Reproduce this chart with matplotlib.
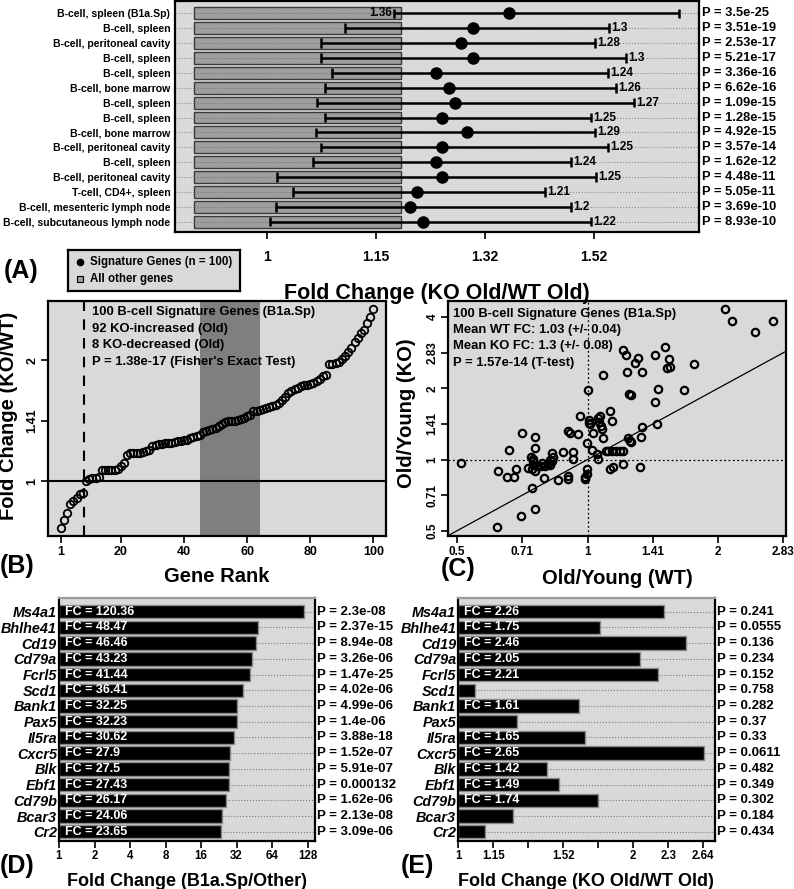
import numpy as np
import matplotlib.pyplot as plt

plt.rcParams['font.family'] = ['Liberation Sans', 'DejaVu Sans']
plt.rcParams['font.weight'] = 'bold'
plt.rcParams['axes.linewidth'] = 1.6

W, H = 794, 889
BG = '#d9d9d9'

# ---------------- panel A: signature enrichment across tissues
tissues = ["B-cell, spleen (B1a.Sp)", "B-cell, spleen", "B-cell, peritoneal cavity",
           "B-cell, spleen", "B-cell, spleen", "B-cell, bone marrow", "B-cell, spleen",
           "B-cell, spleen", "B-cell, bone marrow", "B-cell, peritoneal cavity",
           "B-cell, spleen", "B-cell, peritoneal cavity", "T-cell, CD4+, spleen",
           "B-cell, mesenteric lymph node", "B-cell, subcutaneous lymph node"]
a_mean = [1.36, 1.30, 1.28, 1.30, 1.24, 1.26, 1.27, 1.25, 1.29, 1.25, 1.24, 1.25, 1.21, 1.20, 1.22]
a_low = [1.176, 1.105, 1.071, 1.071, 1.087, 1.076, 1.066, 1.077, 1.064, 1.071, 1.061, 1.013, 1.034, 1.012, 1.004]
a_high = [1.690, 1.545, 1.518, 1.579, 1.543, 1.559, 1.595, 1.510, 1.518, 1.543, 1.472, 1.520, 1.424, 1.472, 1.510]
a_pval = ["3.5e-25", "3.51e-19", "2.53e-17", "5.21e-17", "3.36e-16", "6.62e-16", "1.09e-15",
          "1.28e-15", "4.92e-15", "3.57e-14", "1.62e-12", "4.48e-11", "5.05e-11", "3.69e-10", "8.93e-10"]
other_fc = 1.186
bar_base = 0.911

# ---------------- panel B: ranked log2 fold change (KO/WT, old)
b_log2fc = [-0.381, -0.318, -0.258, -0.185, -0.165, -0.14, -0.10, -0.093,
            0.003, 0.022, 0.03, 0.03, 0.036,
            0.09, 0.09, 0.09, 0.092, 0.095, 0.099, 0.13, 0.15,
            0.22, 0.232, 0.235, 0.235, 0.238, 0.24, 0.25, 0.26, 0.29,
            0.30, 0.305, 0.31, 0.315, 0.318, 0.32, 0.325, 0.33, 0.335, 0.34,
            0.345, 0.355, 0.365, 0.375, 0.385, 0.405, 0.415, 0.425, 0.432,
            0.44, 0.455, 0.47, 0.49, 0.496, 0.496, 0.50, 0.507, 0.512, 0.523,
            0.537, 0.55, 0.578, 0.584, 0.592, 0.597, 0.605, 0.611, 0.619, 0.633,
            0.647, 0.674, 0.70, 0.729, 0.742, 0.764, 0.77, 0.784, 0.792, 0.797,
            0.803, 0.811, 0.825, 0.847, 0.866, 0.874, 0.967, 0.97, 0.975, 0.989,
            1.011, 1.038, 1.066, 1.104, 1.153, 1.186, 1.222, 1.249, 1.304, 1.359, 1.419]
band_lo, band_hi = 45, 64
cut_rank = 8.5

# ---------------- panel C: log2 old/young, WT vs KO
c_wt = [-0.971, -0.685, -0.616, -0.565, -0.552, -0.603, -0.506, -0.697, -0.511, -0.404,
        -0.429, -0.404, -0.404, -0.434, -0.420, -0.416, -0.455, -0.404, -0.420, -0.425,
        -0.384, -0.353, -0.327, -0.289, -0.276, -0.263, -0.271, -0.290, -0.300, -0.332,
        -0.225, -0.148, -0.148, -0.186, -0.110, -0.110, -0.148, -0.135, -0.072, -0.059,
        -0.008, -0.008, -0.008, -0.020, -0.020, 0.000, 0.115, 0.010, 0.010, 0.020,
        0.043, 0.031, 0.082, 0.094, 0.087, 0.102, 0.107, 0.075, 0.082, 0.158,
        0.171, 0.171, 0.120, 0.184, 0.140, 0.273, 0.294, 0.299, 0.363, 0.389,
        0.419, 0.317, 0.330, 0.516, 0.592, 0.626, 0.610, 0.630, 0.542, 0.516,
        0.738, 0.817, 1.052, 1.108, 1.280, 1.420, 0.529, 0.419, 0.410, 0.335,
        0.310, 0.325, 0.270, 0.245, 0.220, 0.185, 0.197, 0.268, 0.401, -0.350]
c_ko = [-0.042, -0.168, -0.252, -0.252, -0.135, 0.131, 0.378, -0.951, -0.797, -0.695,
        -0.406, 0.317, 0.168, 0.037, 0.010, -0.019, -0.121, -0.159, -0.080, -0.140,
        -0.093, -0.093, -0.093, -0.075, -0.019, 0.042, 0.088, 0.000, -0.060, -0.266,
        -0.289, -0.228, -0.275, 0.112, 0.112, 0.005, 0.400, 0.378, 0.354, 0.611,
        0.238, -0.135, -0.205, -0.250, -0.275, 0.974, 1.193, 0.560, 0.514, 0.494,
        0.378, 0.131, 0.590, 0.611, 0.520, 0.470, 0.424, 0.075, 0.005, 0.121,
        0.680, -0.135, 0.308, 0.540, 0.121, 1.543, 1.464, 1.231, 1.357, 1.427,
        1.231, 0.920, 0.900, 1.464, 1.576, 1.417, 1.280, 1.300, 0.993, 0.811,
        0.970, 1.347, 2.112, 1.939, 1.790, 1.939, 0.494, 0.457, 0.310, 0.250,
        0.300, 0.265, 0.121, 0.121, 0.121, 0.121, -0.110, -0.065, -0.103, -0.050]

# ---------------- panels D / E: top signature genes
genes = ["Ms4a1", "Bhlhe41", "Cd19", "Cd79a", "Fcrl5", "Scd1", "Bank1", "Pax5",
         "Il5ra", "Cxcr5", "Blk", "Ebf1", "Cd79b", "Bcar3", "Cr2"]
d_fc = [120.36, 48.47, 46.46, 43.23, 41.44, 36.41, 32.25, 32.23, 30.62, 27.9, 27.5, 27.43, 26.17, 24.06, 23.65]
d_pval = ["2.3e-08", "2.37e-15", "8.94e-08", "3.26e-06", "1.47e-25", "4.02e-06", "4.99e-06",
          "1.4e-06", "3.88e-18", "1.52e-07", "5.91e-07", "0.000132", "1.62e-06", "2.13e-08", "3.09e-06"]
e_fc = [2.26, 1.75, 2.46, 2.05, 2.21, 1.07, 1.61, 1.26, 1.65, 2.65, 1.42, 1.49, 1.74, 1.24, 1.11]
e_pval = ["0.241", "0.0555", "0.136", "0.234", "0.152", "0.758", "0.282", "0.37", "0.33",
          "0.0611", "0.482", "0.349", "0.302", "0.184", "0.434"]

fig = plt.figure(figsize=(W / 100, H / 100), dpi=100)


def add_ax(x0, y0, x1, y1):
    return fig.add_axes([x0 / W, 1 - y1 / H, (x1 - x0) / W, (y1 - y0) / H])


def ftext(x, y, s, **kw):
    fig.text(x / W, 1 - y / H, s, **kw)


def style(ax, size=9):
    ax.set_facecolor(BG)
    ax.tick_params(direction='out', length=5, width=1.2, labelsize=size, pad=2)


# ================= A
ax = add_ax(174.5, 1, 699, 232)
style(ax, 10)
n = len(tissues)
rows = np.arange(n)
ax.set_xscale('log', base=2)
ax.set_xlim(0.889, 1.733)
ax.set_ylim(n - 1 + 0.69, -0.83)
for i in rows:
    ax.axhline(i, color='#8a8a8a', ls=':', lw=0.8, zorder=1)
ax.barh(rows, other_fc - bar_base, left=bar_base, height=0.8, color='#9e9e9e',
        edgecolor='#3a3a3a', lw=1, zorder=2)
for i in rows:
    ax.plot([bar_base, other_fc], [i, i], color='#777777', ls=':', lw=0.8, zorder=3)
ax.hlines(rows, a_low, a_high, color='k', lw=1.8, zorder=4)
ax.vlines(a_low, rows - 0.32, rows + 0.32, color='k', lw=1.8, zorder=4)
ax.vlines(a_high, rows - 0.32, rows + 0.32, color='k', lw=1.8, zorder=4)
ax.plot(a_mean, rows, 'o', color='k', ms=8, zorder=5)
for i in rows:
    lab = f"{a_mean[i]:g}"
    if i == 0:
        ax.annotate(lab, (a_low[i], i), xytext=(-2, 0), textcoords='offset points',
                    ha='right', va='center', fontsize=8.5, zorder=6)
    else:
        ax.annotate(lab, (a_high[i], i), xytext=(1.5, 0), textcoords='offset points',
                    ha='left', va='center', fontsize=8.5, zorder=6)
    ax.text(1.006, i, f"P = {a_pval[i]}", transform=ax.get_yaxis_transform(),
            ha='left', va='center', fontsize=9.3)
ax.set_yticks(rows)
ax.set_yticklabels(tissues, fontsize=7.6)
ax.tick_params(axis='y', length=0, pad=3)
ax.set_xticks([1, 2 ** 0.2, 2 ** 0.4, 2 ** 0.6])
ax.set_xticklabels(["1", "1.15", "1.32", "1.52"])
ax.minorticks_off()
ax.tick_params(axis='x', pad=8)

lax = add_ax(67.5, 250, 239.5, 291)
lax.set_facecolor(BG)
lax.set_xticks([])
lax.set_yticks([])
lax.set_xlim(0, 1)
lax.set_ylim(0, 1)
lax.plot(0.07, 0.7, 'o', color='k', ms=4.5)
lax.plot(0.07, 0.3, 's', mfc='#9e9e9e', mec='k', ms=5, mew=0.8)
lax.text(0.13, 0.7, "Signature Genes (n = 100)", va='center', fontsize=8.3)
lax.text(0.13, 0.3, "All other genes", va='center', fontsize=8.3)

ftext(4, 271, "(A)", fontsize=18, va='center')
ftext(437, 293, "Fold Change (KO Old/WT Old)", fontsize=15.5, ha='center', va='center')

# ================= B
ax = add_ax(48.3, 300.7, 386, 536.3)
style(ax, 9)
rank = np.arange(1, len(b_log2fc) + 1)
ax.axvspan(band_lo, band_hi, color='#7f7f7f', lw=0, zorder=0.5)
ax.axhline(0, color='k', lw=1.5, zorder=1)
ax.axvline(cut_rank, color='k', lw=1.5, ls=(0, (5, 4)), zorder=1)
ax.plot(rank, b_log2fc, 'o', mfc='none', mec='k', ms=5.4, mew=1.3, zorder=3)
ax.set_xlim(-2.96, 103.96)
ax.set_ylim(-0.453, 1.491)
ax.set_xticks([1, 20, 40, 60, 80, 100])
ax.set_yticks([0, 0.5, 1])
ax.set_yticklabels(["1", "1.41", "2"], rotation=90, va='center')
b_text = ["100 B-cell Signature Genes (B1a.Sp)", "92 KO-increased (Old)",
          "8 KO-decreased (Old)", "P = 1.38e-17 (Fisher's Exact Test)"]
for k, s in enumerate(b_text):
    ftext(91.5, 312.5 + 16.4 * k, s, fontsize=9.4, va='center')
ftext(0, 566, "(B)", fontsize=18, va='center')
ftext(217, 576, "Gene Rank", fontsize=14.5, ha='center', va='center')
ftext(9, 416, "Fold Change (KO/WT)", fontsize=14.5, ha='center', va='center', rotation=90)

# ================= C
ax = add_ax(448.3, 300.7, 785.7, 536.3)
style(ax, 8.5)
ax.axhline(0, color='k', lw=0.9, ls=(0, (1.5, 2)), zorder=1)
ax.axvline(0, color='k', lw=0.9, ls=(0, (1.5, 2)), zorder=1)
ax.axline((0, 0), slope=1, color='k', lw=0.9, zorder=1)
ax.plot(c_wt, c_ko, 'o', mfc='none', mec='k', ms=5.3, mew=1.6, zorder=3)
ax.set_xlim(-1.067, 1.518)
ax.set_ylim(-1.078, 2.23)
ax.set_xticks([-1, -0.5, 0, 0.5, 1, 1.5])
ax.set_xticklabels(["0.5", "0.71", "1", "1.41", "2", "2.83"])
ax.set_yticks([-1, -0.5, 0, 0.5, 1, 1.5, 2])
ax.set_yticklabels(["0.5", "0.71", "1", "1.41", "2", "2.83", "4"], rotation=90, va='center')
c_text = ["100 B-cell Signature Genes (B1a.Sp)", "Mean WT FC: 1.03 (+/- 0.04)",
          "Mean KO FC: 1.3 (+/- 0.08)", "P = 1.57e-14 (T-test)"]
for k, s in enumerate(c_text):
    ftext(453, 314 + 16.2 * k, s, fontsize=9.4, va='center')
ftext(441, 569, "(C)", fontsize=18, va='center')
ftext(617, 579, "Old/Young (WT)", fontsize=14.5, ha='center', va='center')
ftext(407, 413, "Old/Young (KO)", fontsize=14.5, ha='center', va='center', rotation=90)


# ================= D / E
def gene_panel(x0, x1, fc, pvals, xmax, ticks, ticklabels, thresh):
    ax = add_ax(x0, 598, x1, 840.7)
    style(ax, 8.3)
    ax.spines['top'].set_color('#9a9a9a')
    g = np.arange(len(genes))
    ax.set_xscale('log', base=2)
    ax.set_xlim(1, xmax)
    ax.set_ylim(len(genes) - 1 + 0.57, -0.87)
    fc = np.array(fc)
    ax.hlines(g, fc, xmax, color='#7a7a7a', ls=':', lw=0.8, zorder=1)
    ax.barh(g, fc - 1, left=1, height=0.86, color='k', edgecolor='#8a8a8a', lw=1, zorder=2)
    for i in g:
        if fc[i] >= thresh:
            ax.annotate(f"FC = {fc[i]:g}", (1, i), xytext=(4, 0), textcoords='offset points',
                        color='white', fontsize=9, va='center', ha='left', zorder=3)
        ax.text(1.008, i, f"P = {pvals[i]}", transform=ax.get_yaxis_transform(),
                ha='left', va='center', fontsize=9.5)
    ax.set_yticks(g)
    ax.set_yticklabels(genes, fontstyle='italic', fontsize=10.4)
    ax.tick_params(axis='y', length=0, pad=1.5)
    ax.set_xticks(ticks)
    ax.set_xticklabels(ticklabels)
    ax.minorticks_off()
    return ax


gene_panel(59, 315, d_fc, d_pval, 2 ** 7.21, [2 ** k for k in range(8)],
           [str(2 ** k) for k in range(8)], 0)
ftext(0, 866, "(D)", fontsize=18, va='center')
ftext(187, 882, "Fold Change (B1a.Sp/Other)", fontsize=13, ha='center', va='center')

gene_panel(458.3, 715, e_fc, e_pval, 2 ** 1.467, [2 ** (0.2 * k) for k in range(8)],
           ["1", "1.15", "", "1.52", "", "2", "2.3", "2.64"], 1.4)
ftext(401, 866, "(E)", fontsize=18, va='center')
ftext(586, 881, "Fold Change (KO Old/WT Old)", fontsize=13, ha='center', va='center')

fig.savefig('out.png', dpi=100)
